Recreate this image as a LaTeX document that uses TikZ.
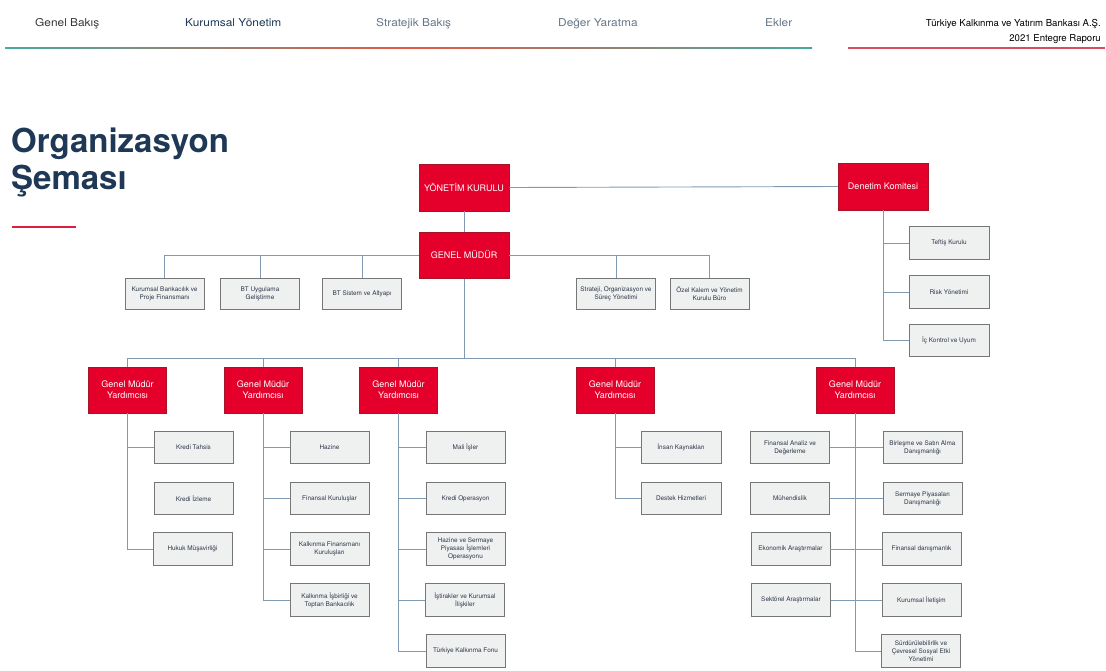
\documentclass[tikz,border=0pt]{standalone}
\usepackage{fontspec}
\setmainfont{TeX Gyre Heros}
\newfontfamily\navfont[FakeStretch=1.1]{TeX Gyre Heros}
\definecolor{kred}{RGB}{228,0,43}
\definecolor{kreddark}{RGB}{165,20,40}
\definecolor{kgray}{RGB}{239,240,240}
\definecolor{kborder}{RGB}{118,118,118}
\definecolor{ktext}{RGB}{45,55,72}
\definecolor{kline}{RGB}{128,154,180}
\definecolor{knavy}{RGB}{30,56,86}
\definecolor{kslate}{RGB}{100,118,136}
\definecolor{kdark}{RGB}{55,55,55}
\definecolor{kteal}{RGB}{70,170,158}
\definecolor{korange}{RGB}{228,88,68}
\definecolor{kpink}{RGB}{214,78,92}
\definecolor{kunder}{RGB}{222,30,60}
\begin{document}
\begin{tikzpicture}[x=1pt,y=-1pt,
  redbox/.style={fill=kred, draw=kreddark, line width=0.5pt, text=white,
    font=\fontsize{9}{10.7}\selectfont, align=center, inner sep=0pt,
    minimum width=90pt, minimum height=46.5pt},
  gmybox/.style={redbox, minimum width=78pt, minimum height=46pt},
  graybox/.style={fill=kgray, draw=kborder, line width=0.8pt, text=ktext,
    font=\fontsize{6.4}{8}\selectfont, align=center, inner sep=0pt,
    minimum width=79pt, minimum height=32.5pt},
  conn/.style={draw=kline, line width=0.9pt},
  navitem/.style={anchor=base west, inner sep=0pt, font=\navfont\fontsize{10.8}{12}\selectfont},
  rightitem/.style={anchor=base east, inner sep=0pt, font=\fontsize{9.6}{11}\selectfont, text=black},
  titletext/.style={anchor=base west, inner sep=0pt, text=knavy, font=\fontsize{33}{38}\selectfont\bfseries}
]
\useasboundingbox (0,0) rectangle (1106,670);
\fill[white] (0,0) rectangle (1106,670);

% header
\node[navitem, text=kdark] (h1) at (35,26) {Genel Bakış};
\node[navitem, text=knavy] (h2) at (185,26) {Kurumsal Yönetim};
\node[navitem, text=kslate] (h3) at (376,26) {Stratejik Bakış};
\node[navitem, text=kslate] (h4) at (558,26) {Değer Yaratma};
\node[navitem, text=kslate] (h5) at (765,26) {Ekler};
\node[rightitem] (r1) at (1101,26) {Türkiye Kalkınma ve Yatırım Bankası A.Ş.};
\node[rightitem] (r2) at (1101,41.5) {2021 Entegre Raporu};
\shade[left color=kteal, right color=kteal, middle color=korange] (5,47.3) rectangle (812,48.8);
\fill[kpink] (848,47.3) rectangle (1105,48.8);

% title
\node[titletext] (t1) at (11,152) {Organizasyon};
\node[titletext] (t2) at (11,189) {Şeması};
\fill[kunder] (12,225.5) rectangle (76,228);

% top level
\node[redbox] (yk) at (464,187.5) {YÖNETİM KURULU};
\node[redbox] (dk) at (883,186.5) {Denetim Komitesi};
\node[redbox] (gm) at (464,255) {GENEL MÜDÜR};

% staff row
\node[graybox, minimum height=31pt] (kb) at (164.5,293.5) {Kurumsal Bankacılık ve\\Proje Finansmanı};
\node[graybox, minimum height=31pt] (btu) at (260,293.5) {BT Uygulama\\Geliştirme};
\node[graybox, minimum height=31pt] (bts) at (362,293.5) {BT Sistem ve Altyapı};
\node[graybox, minimum height=31pt] (sos) at (616,293.5) {Strateji, Organizasyon ve\\Süreç Yönetimi};
\node[graybox, minimum height=31pt] (ozk) at (709.5,293.5) {Özel Kalem ve Yönetim\\Kurulu Büro};

% audit children
\node[graybox, minimum width=80pt] (tk) at (949,243) {Teftiş Kurulu};
\node[graybox, minimum width=80pt] (rk) at (949,292) {Risk Yönetimi};
\node[graybox, minimum width=80pt] (ikk) at (949,340.5) {İç Kontrol ve Uyum};

% GMY row
\node[gmybox] (g1) at (127.5,390) {Genel Müdür\\Yardımcısı};
\node[gmybox] (g2) at (263,390) {Genel Müdür\\Yardımcısı};
\node[gmybox] (g3) at (398.5,390) {Genel Müdür\\Yardımcısı};
\node[gmybox] (g4) at (615,390) {Genel Müdür\\Yardımcısı};
\node[gmybox] (g5) at (855,390) {Genel Müdür\\Yardımcısı};

% column 1
\node[graybox] (c1a) at (193.5,447.5) {Kredi Tahsis};
\node[graybox] (c1b) at (193.5,498.5) {Kredi İzleme};
\node[graybox] (c1c) at (192.5,549) {Hukuk Müşavirliği};
% column 2
\node[graybox] (c2a) at (329.5,447.5) {Hazine};
\node[graybox] (c2b) at (329.5,498.5) {Finansal Kuruluşlar};
\node[graybox] (c2c) at (329.5,549) {Kalkınma Finansmanı\\Kuruluşları};
\node[graybox] (c2d) at (329.5,600) {Kalkınma İşbirliği ve\\Toptan Bankacılık};
% column 3
\node[graybox] (c3a) at (465.5,447.5) {Mali İşler};
\node[graybox] (c3b) at (465.5,498.5) {Kredi Operasyon};
\node[graybox] (c3c) at (465.5,549) {Hazine ve Sermaye\\Piyasası İşlemleri\\Operasyonu};
\node[graybox] (c3d) at (465,600) {İştirakler ve Kurumsal\\İlişkiler};
\node[graybox] (c3e) at (465.5,651) {Türkiye Kalkınma Fonu};
% column 4
\node[graybox, minimum width=80pt] (c4a) at (681,447.5) {İnsan Kaynakları};
\node[graybox, minimum width=80pt] (c4b) at (681,498.5) {Destek Hizmetleri};
% column 5 left
\node[graybox] (c5a) at (790,447.5) {Finansal Analiz ve\\Değerleme};
\node[graybox] (c5b) at (790,498.5) {Mühendislik};
\node[graybox] (c5c) at (790.5,549) {Ekonomik Araştırmalar};
\node[graybox] (c5d) at (791,600) {Sektörel Araştırmalar};
% column 5 right
\node[graybox] (c5e) at (922.5,447.5) {Birleşme ve Satın Alma\\Danışmanlığı};
\node[graybox] (c5f) at (922.5,498.5) {Sermaye Piyasaları\\Danışmanlığı};
\node[graybox] (c5g) at (921.5,549) {Finansal danışmanlık};
\node[graybox] (c5h) at (921.5,600) {Kurumsal İletişim};
\node[graybox] (c5i) at (921,651) {Sürdürülebilirlik ve\\Çevresel Sosyal Etki\\Yönetimi};

% connectors
\coordinate (bus) at (464,358);
\draw[conn] (yk.east) -- (dk.west);
\draw[conn] (yk.south) -- (gm.north);
\draw[conn] (gm.west) -| (kb.north);
\draw[conn] (gm.west) -| (btu.north);
\draw[conn] (gm.west) -| (bts.north);
\draw[conn] (gm.east) -| (sos.north);
\draw[conn] (gm.east) -| (ozk.north);
\draw[conn] (dk.south) |- (tk.west);
\draw[conn] (dk.south) |- (rk.west);
\draw[conn] (dk.south) |- (ikk.west);
\draw[conn] (gm.south) -- (bus);
\foreach \g in {g1,g2,g3,g4,g5} \draw[conn] (bus) -| (\g.north);
\foreach \c in {c1a,c1c} \draw[conn] (g1.south) |- (\c.west);
\foreach \c in {c2a,c2b,c2c,c2d} \draw[conn] (g2.south) |- (\c.west);
\foreach \c in {c3a,c3b,c3c,c3d,c3e} \draw[conn] (g3.south) |- (\c.west);
\foreach \c in {c4a,c4b} \draw[conn] (g4.south) |- (\c.west);
\foreach \c in {c5a,c5b,c5c,c5d} \draw[conn] (g5.south) |- (\c.east);
\foreach \c in {c5e,c5f,c5g,c5h,c5i} \draw[conn] (g5.south) |- (\c.west);
\end{tikzpicture}
\end{document}
